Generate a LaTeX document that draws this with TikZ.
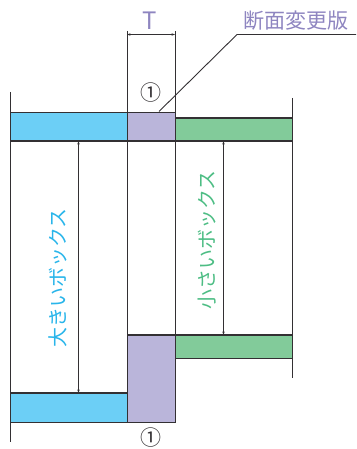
\documentclass[tikz,border=0pt]{standalone}
\usepackage{fontspec}
\setmainfont{Noto Sans CJK JP}
\usetikzlibrary{arrows.meta}
\definecolor{bluefill}{HTML}{6CCFF6}
\definecolor{purplefill}{HTML}{BAB5DA}
\definecolor{greenfill}{HTML}{82CB9A}
\definecolor{bluetext}{HTML}{29B5EA}
\definecolor{greentext}{HTML}{4DBD84}
\definecolor{purpletext}{HTML}{8E85C0}
\definecolor{ink}{HTML}{333033}
\tikzset{
  x=1pt,y=-1pt,
  plate/.style={draw=ink,line width=1.05pt},
  edgeline/.style={draw=ink,line width=0.9pt},
  leader/.style={draw=ink,line width=0.9pt},
  dimline/.style={draw=ink,line width=0.6pt,{Stealth[length=3.5pt,width=2.4pt]}-{Stealth[length=3.5pt,width=2.4pt]}},
  label/.style={inner sep=0pt,font=\fontsize{20}{20}\selectfont},
  mark1/.style={inner sep=0pt,text=ink,font=\fontsize{21}{21}\selectfont},
}
\begin{document}
\begin{tikzpicture}
\useasboundingbox (0,0) rectangle (356,449);
% named points
\coordinate (L1) at (10.5,92); \coordinate (L2) at (10.5,442);
\coordinate (R1) at (292,98); \coordinate (R2) at (292,378);
\coordinate (A1) at (127,31); \coordinate (A2) at (127,423);
\coordinate (B1) at (175,31); \coordinate (B2) at (175,423);
\coordinate (TL) at (127,34.5); \coordinate (TR) at (175,34.5);
\coordinate (BigT) at (78.5,141); \coordinate (BigB) at (78.5,393);
\coordinate (SmallT) at (223.5,141); \coordinate (SmallB) at (223.5,335);
\coordinate (LeadA) at (159,111.5); \coordinate (LeadB) at (237,34.5); \coordinate (LeadC) at (356,34.5);
% fills
\fill[bluefill] (10.5,112.5) rectangle (127,141);
\fill[purplefill] (127,112.5) rectangle (175,141);
\fill[greenfill] (175,118) rectangle (292,141);
\fill[purplefill] (127,335) rectangle (175,422.5);
\fill[greenfill] (175,335) rectangle (292,358.5);
\fill[bluefill] (10.5,393) rectangle (127,422.5);
% verticals
\draw[edgeline] (L1) -- (L2);
\draw[edgeline] (R1) -- (R2);
\draw[edgeline] (A1) -- (A2);
\draw[edgeline] (B1) -- (B2);
% plates
\draw[plate] (10.5,112.5) -- (175,112.5);
\draw[plate] (10.5,141) -- (292,141);
\draw[plate] (175,118) -- (292,118);
\draw[plate] (127,335) -- (292,335);
\draw[plate] (175,358.5) -- (292,358.5);
\draw[plate] (10.5,393) -- (127,393);
\draw[plate] (10.5,422.5) -- (175,422.5);
% dimensions
\draw[dimline] (TL) -- (TR);
\draw[dimline] (BigT) -- (BigB);
\draw[dimline] (SmallT) -- (SmallB);
\draw[leader] (LeadA) -- (LeadB) -- (LeadC);
% texts
\node[label,text=purpletext,font=\fontsize{24}{24}\selectfont] (tlabel) at (150,20.5) {T};
\node[label,text=purpletext,font=\fontsize{21}{21}\selectfont] (plate) at (296,21) {断面変更版};
\node[mark1] (m1) at (150.5,92.5) {①};
\node[mark1] (m2) at (150.5,438) {①};
\node[label,text=bluetext,rotate=90] (big) at (57.5,278) {大きいボックス};
\node[label,text=greentext,rotate=90] (small) at (207.5,240) {小さいボックス};
\end{tikzpicture}
\end{document}
